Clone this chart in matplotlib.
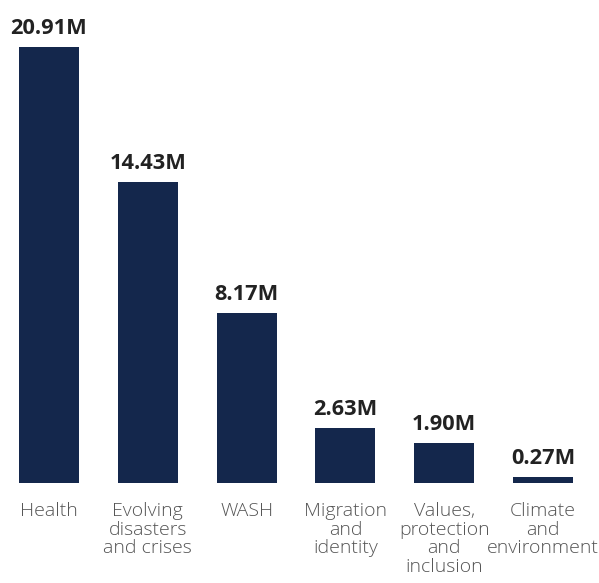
import matplotlib.pyplot as plt

categories = ["Health", "Evolving\ndisasters\nand crises", "WASH",
              "Migration\nand\nidentity", "Values,\nprotection\nand\ninclusion",
              "Climate\nand\nenvironment"]
values = [20.91, 14.43, 8.17, 2.63, 1.90, 0.27]
value_labels = ["20.91M", "14.43M", "8.17M", "2.63M", "1.90M", "0.27M"]

bar_color = "#14274c"

fig = plt.figure(figsize=(5.99, 5.83), dpi=100)
ax = fig.add_axes([0, 0, 1, 1])

x = list(range(len(values)))
ax.bar(x, values, width=0.607, color=bar_color)

for xi, v, lab, cat in zip(x, values, value_labels, categories):
    ax.annotate(lab, (xi, v), xytext=(0, 13), textcoords="offset pixels",
                ha="center", va="baseline", fontsize=15.7, fontweight="bold",
                color="#222222", family="Open Sans")
    ax.annotate(cat, (xi, 0), xytext=(0, -19), textcoords="offset pixels",
                ha="center", va="top", fontsize=14, color="#555555",
                family="Open Sans", fontweight="light", linespacing=1.04)

px = 436 / 20.91
ax.set_xlim(-49 / 98.8, (599 - 49) / 98.8)
ax.set_ylim(-100 / px, 483 / px)
ax.axis("off")

fig.savefig("out.png", dpi=100)
